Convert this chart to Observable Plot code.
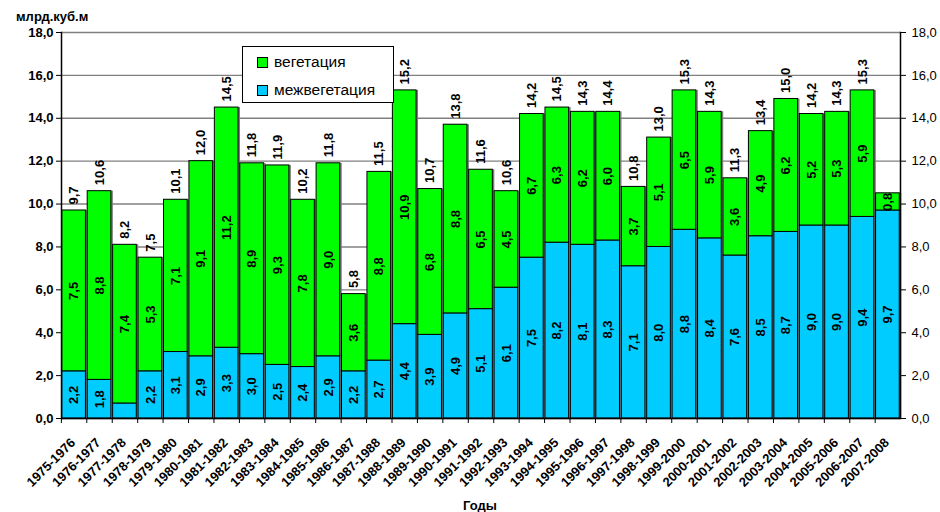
<!DOCTYPE html>
<html><head><meta charset="utf-8">
<script src="https://cdn.jsdelivr.net/npm/d3@7"></script>
<script src="https://cdn.jsdelivr.net/npm/@observablehq/plot@0.6"></script>
<style>
body{margin:0;background:#fff;font-family:Arial,"Liberation Sans",sans-serif}
#wrap{position:relative;width:940px;height:512px;overflow:hidden}
#wrap svg{position:absolute;left:0;top:0}
.unit{position:absolute;left:16px;top:9px;font-weight:bold;font-size:13px}
.xlab{position:absolute;left:463px;top:498px;font-weight:bold;font-size:13px}
.legend{position:absolute;left:242px;top:46px;width:150px;height:55px;border:1px solid #000;background:#fff;font-size:15.5px}
.legend .row{position:absolute;left:14px;display:flex;align-items:center;white-space:nowrap}
.legend .sw{width:9px;height:9px;border:1px solid #000;margin-right:6px}
</style></head><body>
<div id="wrap"></div>
<script>
const years = ["1975-1976","1976-1977","1977-1978","1978-1979","1979-1980","1980-1981","1981-1982","1982-1983","1983-1984","1984-1985","1985-1986","1986-1987","1987-1988","1988-1989","1989-1990","1990-1991","1991-1992","1992-1993","1993-1994","1994-1995","1995-1996","1996-1997","1997-1998","1998-1999","1999-2000","2000-2001","2001-2002","2002-2003","2003-2004","2004-2005","2005-2006","2006-2007","2007-2008"];
// межвегетация (bottom, blue)
const interVeg = [2.2,1.8,0.7,2.2,3.1,2.9,3.3,3.0,2.5,2.4,2.9,2.2,2.7,4.4,3.9,4.9,5.1,6.1,7.5,8.2,8.1,8.3,7.1,8.0,8.8,8.4,7.6,8.5,8.7,9.0,9.0,9.4,9.7];
// вегетация (top, green)
const veg = [7.5,8.8,7.4,5.3,7.1,9.1,11.2,8.9,9.3,7.8,9.0,3.6,8.8,10.9,6.8,8.8,6.5,4.5,6.7,6.3,6.2,6.0,3.7,5.1,6.5,5.9,3.6,4.9,6.2,5.2,5.3,5.9,0.8];
// total labels above bars
const totals = [9.7,10.6,8.2,7.5,10.1,12.0,14.5,11.8,11.9,10.2,11.8,5.8,11.5,15.2,10.7,13.8,11.6,10.6,14.2,14.5,14.3,14.4,10.8,13.0,15.3,14.3,11.3,13.4,15.0,14.2,14.3,15.3,null];
const yTicks = [0,2,4,6,8,10,12,14,16,18];

const GREEN = "#00ff00", BLUE = "#00ccff";
const fmt = v => d3.format(".1f")(v).replace(".", ",");
const rows = years.map((y, i) => ({year: y, inter: interVeg[i], veg: veg[i], top: interVeg[i] + veg[i], label: totals[i]}));

const W = 940, ML = 61, MR = 40;
const step = (W - ML - MR) / years.length;

const chart = Plot.plot({
  width: W, height: 512,
  marginLeft: ML, marginRight: MR, marginTop: 32, marginBottom: 94,
  style: {fontFamily: "Arial, 'Liberation Sans', sans-serif", fontSize: "12px", background: "transparent", color: "black"},
  x: {domain: years, paddingInner: 0.07, paddingOuter: 0.03, round: false, label: null, axis: null},
  y: {domain: [0, 18], label: null, axis: null},
  marks: [
    Plot.gridY(yTicks, {stroke: "#808080", strokeOpacity: 1, strokeWidth: 1.4}),
    Plot.barY(rows, {x: "year", y1: 0, y2: "top", fill: "#7a7a7a", dx: 2}),
    Plot.barY(rows, {x: "year", y1: 0, y2: "inter", fill: BLUE, stroke: "#000", strokeWidth: 1}),
    Plot.barY(rows, {x: "year", y1: "inter", y2: "top", fill: GREEN, stroke: "#000", strokeWidth: 1}),
    Plot.text(rows.filter(d => d.inter >= 1), {x: "year", y: d => d.inter / 2, text: d => fmt(d.inter), rotate: -90, fontWeight: "bold", fontSize: 13, fill: "#000"}),
    Plot.text(rows, {x: "year", y: d => d.inter + d.veg / 2, text: d => fmt(d.veg), rotate: -90, fontWeight: "bold", fontSize: 13, fill: "#000"}),
    Plot.text(rows.filter(d => d.label != null), {x: "year", y: "top", text: d => fmt(d.label), rotate: -90, textAnchor: "start", dy: -6, fontWeight: "bold", fontSize: 13, fill: "#000"}),
    Plot.ruleY([0], {stroke: "#000", strokeWidth: 1.5}),
    Plot.frame({anchor: "left", stroke: "#000", strokeWidth: 1.5}),
    Plot.frame({anchor: "right", stroke: "#000", strokeWidth: 1.5}),
    Plot.axisY(yTicks, {anchor: "left", tickFormat: fmt, tickSize: 5, tickPadding: 3, fontWeight: "bold", fontSize: 13, label: null}),
    Plot.axisY(yTicks, {anchor: "right", tickFormat: fmt, tickSize: 5, tickPadding: 6, fontSize: 13, label: null}),
    Plot.axisX(years, {anchor: "bottom", tickSize: 5, tickFormat: () => "", dx: -step / 2, label: null}),
    Plot.axisX(years, {anchor: "bottom", tickRotate: -45, tickSize: 0, tickPadding: 22, dx: -1, fontWeight: "bold", fontSize: 13, label: null})
  ]
});

const wrap = document.getElementById("wrap");
wrap.appendChild(chart);
const unit = document.createElement("div"); unit.className = "unit"; unit.textContent = "млрд.куб.м"; wrap.appendChild(unit);
const xl = document.createElement("div"); xl.className = "xlab"; xl.textContent = "Годы"; wrap.appendChild(xl);
const leg = document.createElement("div"); leg.className = "legend";
[["вегетация", GREEN, 6], ["межвегетация", BLUE, 34]].forEach(([t, c, top]) => {
  const r = document.createElement("div"); r.className = "row"; r.style.top = top + "px";
  const s = document.createElement("span"); s.className = "sw"; s.style.background = c;
  const l = document.createElement("span"); l.textContent = t;
  r.appendChild(s); r.appendChild(l); leg.appendChild(r);
});
wrap.appendChild(leg);
</script>
</body></html>
